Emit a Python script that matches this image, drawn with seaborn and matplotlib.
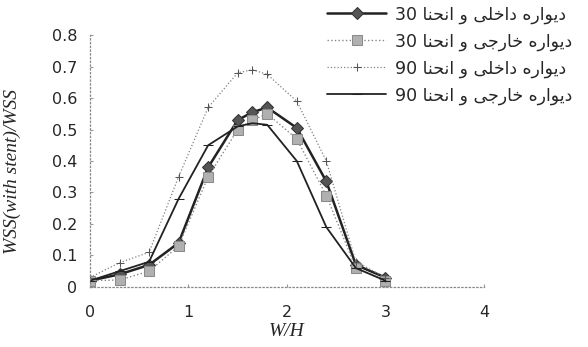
import matplotlib
matplotlib.use("Agg")
import matplotlib.pyplot as plt
import seaborn as sns

# data
w_h = [0, 0.3, 0.6, 0.9, 1.2, 1.5, 1.65, 1.8, 2.1, 2.4, 2.7, 3.0]
inner_30 = [0.02, 0.04, 0.07, 0.14, 0.38, 0.53, 0.555, 0.57, 0.505, 0.335, 0.07, 0.03]
outer_30 = [0.02, 0.022, 0.05, 0.13, 0.35, 0.50, 0.53, 0.55, 0.47, 0.29, 0.06, 0.02]
inner_90 = [0.03, 0.077, 0.11, 0.35, 0.57, 0.68, 0.69, 0.675, 0.59, 0.40, 0.08, 0.03]
outer_90 = [0.02, 0.05, 0.08, 0.28, 0.45, 0.51, 0.52, 0.515, 0.40, 0.19, 0.06, 0.02]

labels_fa = ["دیواره داخلی و انحنا", "دیواره خارجی و انحنا",
             "دیواره داخلی و انحنا", "دیواره خارجی و انحنا"]
label_nums = ["30", "30", "90", "90"]

yticks = [0, 0.1, 0.2, 0.3, 0.4, 0.5, 0.6, 0.7, 0.8]
ytick_labels = ["0", "0.1", "0.2", "0.3", "0.4", "0.5", "0.6", "0.7", "0.8"]
xticks = [0, 1, 2, 3, 4]


# matplotlib has no arabic shaping, so pick presentation forms by hand
FORMS = {  # isolated, final, initial, medial
    "ا": ("\uFE8D", "\uFE8E", None, None),
    "د": ("\uFEA9", "\uFEAA", None, None),
    "ر": ("\uFEAD", "\uFEAE", None, None),
    "و": ("\uFEED", "\uFEEE", None, None),
    "ه": ("\uFEE9", "\uFEEA", "\uFEEB", "\uFEEC"),
    "خ": ("\uFEA5", "\uFEA6", "\uFEA7", "\uFEA8"),
    "ل": ("\uFEDD", "\uFEDE", "\uFEDF", "\uFEE0"),
    "ج": ("\uFE9D", "\uFE9E", "\uFE9F", "\uFEA0"),
    "ن": ("\uFEE5", "\uFEE6", "\uFEE7", "\uFEE8"),
    "ح": ("\uFEA1", "\uFEA2", "\uFEA3", "\uFEA4"),
    "ی": ("\uFEEF", "\uFEF0", "\uFEF3", "\uFEF4"),
}


def shape(text):
    out = []
    for i, c in enumerate(text):
        if c not in FORMS:
            out.append(c)
            continue
        prev = text[i - 1] if i > 0 else ""
        nxt = text[i + 1] if i + 1 < len(text) else ""
        join_prev = prev in FORMS and FORMS[prev][2] is not None
        join_next = nxt in FORMS and FORMS[c][2] is not None
        if join_prev and join_next:
            out.append(FORMS[c][3])
        elif join_prev:
            out.append(FORMS[c][1])
        elif join_next:
            out.append(FORMS[c][2])
        else:
            out.append(FORMS[c][0])
    return "".join(out)[::-1]


legend_labels = [n + " " + shape(t) for t, n in zip(labels_fa, label_nums)]

sns.set_style("white")
plt.rcParams["font.family"] = ["DejaVu Sans"]

fig = plt.figure(figsize=(5.88, 3.47), dpi=100)
ax = fig.add_axes([0.153, 0.173, 0.670, 0.726])

sns.lineplot(x=w_h, y=inner_30, ax=ax, color="#222222", lw=1.8, marker="D",
             markersize=6.5, markerfacecolor="#555555", markeredgecolor="#333333",
             label=legend_labels[0])
sns.lineplot(x=w_h, y=outer_30, ax=ax, color="#888888", lw=1.0, linestyle=":",
             marker="s", markersize=6.5, markerfacecolor="#b0b0b0",
             markeredgecolor="#8a8a8a", label=legend_labels[1])
sns.lineplot(x=w_h, y=inner_90, ax=ax, color="#808080", lw=0.9, linestyle=":",
             marker="+", markersize=6, markeredgecolor="#555555",
             label=legend_labels[2])
sns.lineplot(x=w_h, y=outer_90, ax=ax, color="#222222", lw=1.3, marker="_",
             markersize=7, markeredgecolor="#222222", label=legend_labels[3])

ax.set_xlim(0, 4)
ax.set_ylim(0, 0.8)
ax.set_xticks(xticks)
ax.set_xticklabels([str(t) for t in xticks])
ax.set_yticks(yticks)
ax.set_yticklabels(ytick_labels)
ax.tick_params(axis="both", labelsize=11.5, length=2, direction="in",
               color="#999999", bottom=True, left=True)
ax.tick_params(axis="x", pad=13)
ax.tick_params(axis="y", pad=9)

for s in ["top", "right"]:
    ax.spines[s].set_visible(False)
for s in ["left", "bottom"]:
    ax.spines[s].set_color("#888888")
    ax.spines[s].set_linestyle((0, (1, 2)))
    ax.spines[s].set_linewidth(0.9)

ax.set_xlabel("W/H", family="Liberation Serif", style="italic", fontsize=14)
ax.set_ylabel("WSS(with stent)/WSS", family="Liberation Serif", style="italic",
              fontsize=14)
ax.xaxis.set_label_coords(0.5, -0.145)
ax.yaxis.set_label_coords(-0.175, 0.46)

leg = ax.legend(loc="upper left", bbox_to_anchor=(0.551, 0.995),
                bbox_transform=fig.transFigure, frameon=False, borderpad=0.2,
                borderaxespad=0, handlelength=3.4, handletextpad=0.5,
                labelspacing=0.5, prop={"family": ["DejaVu Sans"], "size": 12.5})

fig.savefig("out.png", dpi=100, facecolor="white")
